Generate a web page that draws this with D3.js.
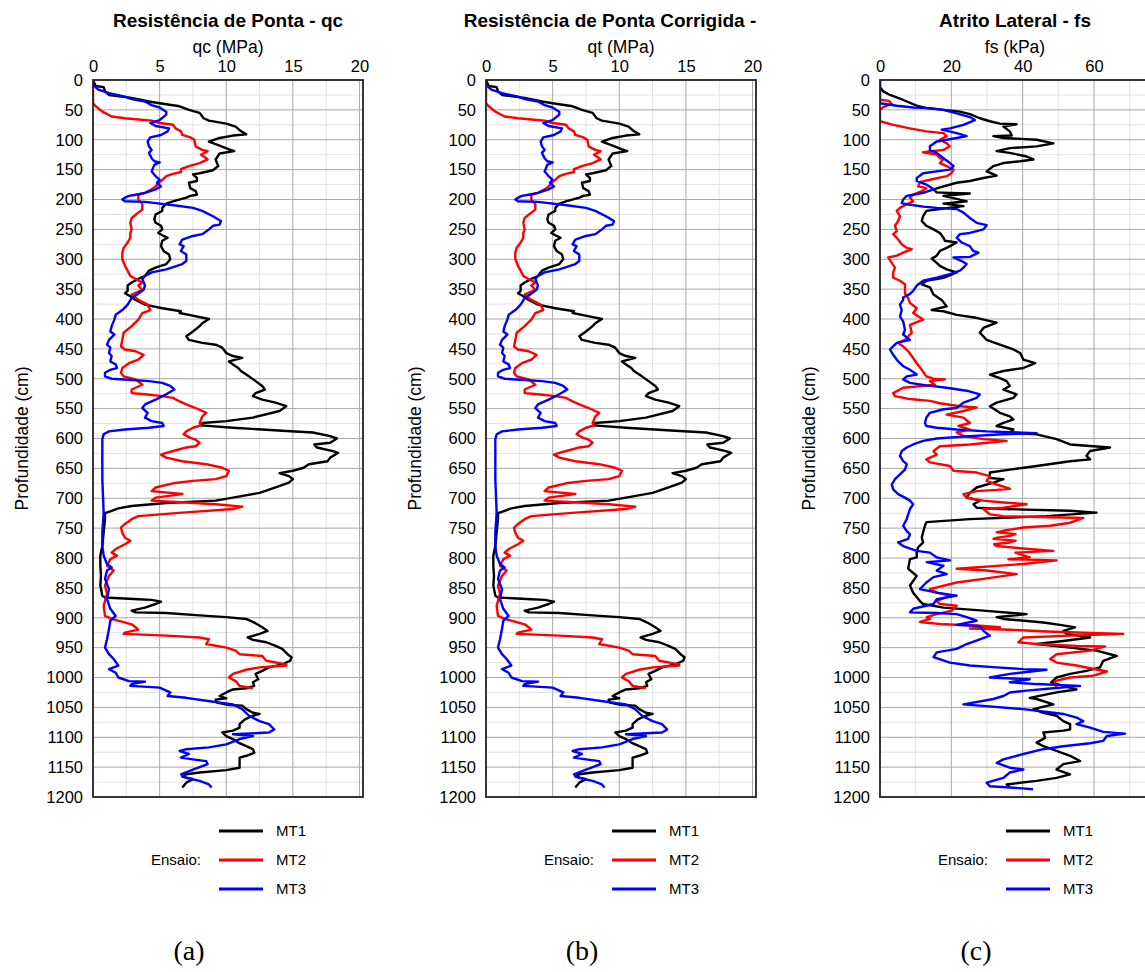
<!DOCTYPE html>
<html>
<head>
<meta charset="utf-8">
<script src="https://cdn.jsdelivr.net/npm/d3@7"></script>
<style>
    body { margin: 0; background: #fff; }
    svg text { font-family: "Liberation Sans", Arial, sans-serif; fill: #000; }
</style>
</head>
<body>
<svg id="drawing_region"></svg>
<script>
// [depth (cm), value] pairs
const qcMT1 = [[0,0],[10,0.2],[12,0.8],[19,0.9],[25,1.2],[30,2.9],[36,4.2],[39,5],[44,6.5],[50,7.2],[55,8],[64,8.3],[68,8.7],[73,10],[78,10.7],[84,11],[91,11.5],[93,10.5],[97,9.5],[103,8.7],[110,9.5],[116,10.2],[119,10.6],[123,9.5],[133,9.2],[144,9.4],[151,9],[156,8],[158,7.5],[164,7.8],[169,7.8],[172,7.2],[181,7.3],[186,7.7],[192,7.8],[194,7.3],[197,7],[203,6],[207,5.5],[214,5.2],[219,5.2],[225,4.7],[233,4.6],[239,4.7],[244,5.1],[250,5.2],[256,4.9],[261,5.3],[264,5.6],[269,5.2],[278,5.1],[286,5.3],[292,5.7],[300,5.8],[308,5.5],[314,4.7],[319,4.2],[328,3.9],[333,3.4],[339,2.9],[344,2.6],[353,2.6],[357,2.4],[362,2.8],[368,3.2],[376,3.9],[382,5.2],[387,6.6],[390,6.5],[393,7.2],[400,8.7],[407,8.2],[412,8],[421,7.5],[429,7],[435,7.2],[440,8.2],[443,9.2],[448,9.7],[457,10],[462,10.5],[465,11.2],[471,10.2],[476,10.5],[482,10.9],[487,11.1],[496,11.7],[504,12.2],[512,12.7],[518,12.9],[524,12.2],[529,12],[535,12.7],[540,13.7],[546,14.5],[554,14],[565,12],[571,10],[574,8.2],[578,8.1],[582,10.5],[587,14.2],[590,16.5],[596,17.8],[600,18.3],[607,17.8],[610,16.6],[615,16.8],[621,18],[624,18.4],[632,17.8],[638,17.6],[643,16.2],[649,15.8],[654,15],[658,14],[663,14.7],[668,15],[674,14.7],[682,13.7],[691,12.5],[699,10.5],[704,9.2],[708,5.5],[713,2.9],[717,1.9],[721,1.4],[725,0.9],[735,0.9],[757,0.8],[780,0.7],[796,0.55],[813,0.55],[830,0.6],[846,0.55],[863,0.7],[866,0.9],[869,3.4],[870,4.4],[873,5.1],[877,4.7],[883,3.9],[888,2.9],[891,3.2],[892,5.5],[896,8],[899,10],[902,11.5],[908,12.1],[916,12.7],[922,13.1],[927,12.5],[933,11.6],[937,12],[941,13],[947,13.7],[952,14.2],[961,14.6],[966,14.9],[972,14.8],[978,14.2],[983,13.2],[989,12.7],[994,12.2],[1003,12.4],[1008,12],[1014,12.1],[1018,11.5],[1020,10.5],[1025,10],[1031,9.5],[1035,10],[1037,9.2],[1042,9.3],[1046,10.2],[1047,11.2],[1053,11.5],[1059,12],[1061,12.5],[1064,12],[1070,11.4],[1078,11],[1084,11],[1089,10.5],[1092,9.7],[1098,10],[1103,10.5],[1109,10.9],[1115,11.5],[1120,12],[1126,12.1],[1131,11.5],[1134,11],[1142,11],[1151,11],[1155,10],[1159,8],[1162,7],[1166,6.7],[1170,7.5],[1176,7],[1184,6.7]];

const qcMT2 = [[0,0],[39,0],[44,0.2],[53,0.7],[61,1.4],[64,2.4],[66,3.4],[68,4.4],[72,5],[75,6],[81,6.2],[86,6.6],[92,6.7],[96,7.3],[100,7.6],[111,7.7],[117,8.2],[119,8.6],[125,8.1],[131,8.5],[133,8.6],[139,8],[144,7.2],[149,6.6],[154,6.6],[157,6],[161,5.5],[167,5.2],[171,5],[178,4.7],[183,4.4],[189,3.9],[192,3.4],[200,3.4],[208,3.7],[217,3.7],[222,3.4],[231,2.9],[239,2.8],[250,2.9],[256,2.8],[264,2.8],[272,2.6],[281,2.3],[289,2.2],[300,2.2],[311,2.4],[319,2.6],[328,2.8],[333,3.2],[339,3.7],[344,3.4],[351,3.7],[359,2.9],[368,3.4],[376,4.1],[385,4.3],[390,3.7],[401,3.4],[412,2.9],[423,2.3],[435,2.2],[446,2.1],[451,2.4],[454,3.2],[460,3.8],[468,3.4],[474,2.7],[482,2.2],[490,2.1],[496,2.3],[501,3.2],[510,3.7],[518,2.9],[524,2.9],[526,3.9],[529,5.2],[532,6],[538,6.5],[543,7],[549,7.7],[554,8.2],[557,8.5],[563,8.2],[574,8],[578,8.1],[582,7.5],[588,7],[593,6.8],[599,7.3],[602,7.7],[607,8],[613,7.7],[615,7],[618,6.5],[624,5.5],[627,5.1],[632,5.5],[638,6.7],[643,8.5],[649,9.7],[654,10.2],[663,10],[668,9.2],[671,7.5],[675,6],[682,4.7],[688,4.4],[693,6.7],[699,4.7],[704,4.4],[707,7],[710,9.2],[714,11.2],[718,10.5],[724,6.7],[730,3.4],[735,2.9],[743,2.4],[749,2.1],[758,2.2],[766,2.4],[771,2.8],[777,2.4],[785,1.7],[791,1.4],[796,1.8],[802,1.3],[813,1.05],[821,1.55],[830,1.2],[846,0.9],[860,1.05],[880,0.8],[897,0.9],[902,1.4],[911,2.9],[916,3.2],[920,3.4],[925,2.4],[927,2.3],[930,5.5],[933,8],[936,8.7],[944,8.5],[950,10],[955,10.7],[961,11],[964,12.7],[972,13],[978,14.5],[980,14.5],[983,12.5],[987,11.5],[994,10.5],[1000,10.2],[1006,10.7],[1014,11],[1018,12]];

const qcMT3 = [[0,0],[8,0],[16,0.4],[22,1.2],[28,2.4],[32,2.9],[36,3.9],[42,4.4],[46,5],[53,5.5],[58,5.5],[67,5],[72,4.3],[77,4.7],[81,5.7],[86,5.6],[92,5.1],[96,4.3],[103,4.1],[111,4.2],[117,4.4],[122,4.2],[131,4.4],[136,4.6],[138,5],[142,4.6],[153,4.4],[161,4.7],[167,5],[172,4.8],[178,5.1],[183,4.7],[189,3.9],[192,3.2],[194,2.7],[197,2.4],[200,2.2],[203,2.4],[204,3.9],[206,4.7],[210,6.2],[214,7.5],[219,8.2],[228,9],[236,9.6],[242,9.5],[244,9],[250,8.7],[258,8.2],[261,7.5],[267,6.7],[275,6.5],[278,6.8],[286,6.6],[292,7],[303,7],[308,6.7],[317,5.5],[322,4.4],[328,3.9],[333,3.7],[344,3.9],[351,3.8],[359,3.3],[365,2.9],[376,2.6],[385,2.2],[393,1.7],[401,1.6],[412,1.4],[421,1.3],[426,1.6],[435,1.2],[443,1.05],[448,1.3],[457,1.2],[462,1.4],[471,1.3],[476,1.7],[482,1.8],[485,1.3],[490,0.9],[496,0.9],[500,1.4],[502,2.9],[504,4.2],[507,5.2],[512,5.8],[518,6.1],[526,5.5],[535,4.7],[543,3.9],[549,3.7],[557,4.1],[565,3.9],[571,4.4],[574,5.2],[579,5.3],[582,4.2],[585,2.4],[588,1.2],[593,0.8],[601,0.7],[624,0.7],[668,0.7],[724,0.8],[757,0.7],[780,0.7],[796,0.8],[810,1.05],[816,1.4],[821,1.05],[835,0.9],[852,1.2],[869,1.05],[885,1.3],[897,1.7],[905,1.3],[919,1.2],[936,1.05],[950,0.9],[961,1.2],[969,1.55],[980,1.9],[986,1.2],[992,1.7],[1000,1.9],[1006,2.7],[1007,3.9],[1011,2.9],[1014,2.8],[1017,5],[1022,5.5],[1025,5.8],[1031,5.6],[1034,7],[1039,8.5],[1045,10.5],[1053,11.2],[1064,11.7],[1073,12.5],[1078,13.2],[1087,13.6],[1092,13.2],[1095,10.5],[1098,12],[1103,11],[1112,10],[1117,8.7],[1120,7],[1123,6.5],[1128,7.2],[1134,6.6],[1137,7.5],[1140,8.5],[1145,8.6],[1154,7.5],[1162,6.6],[1168,7],[1173,8],[1179,8.7],[1184,8.9]];

// qt profiles: no visible difference from qc at this scale
const qtMT1 = qcMT1;
const qtMT2 = qcMT2;
const qtMT3 = qcMT3;

const fsMT1 = [[0,0],[12,0],[19,0.9],[25,2.8],[31,5.6],[36,7.5],[43,10.3],[47,13],[50,17.8],[53,22.4],[57,25.2],[64,28],[69,30.8],[73,33.6],[74,38.3],[78,34.6],[86,36.4],[93,36.9],[94,31.8],[97,34.6],[100,43.9],[106,48.6],[111,43.9],[114,36.4],[119,32.7],[122,36.4],[128,41.1],[133,43],[136,39.3],[139,34.6],[144,31.8],[153,29.9],[160,32.7],[164,29],[169,25.2],[172,21.5],[178,17.8],[183,15],[188,15.9],[189,19.6],[190,25.2],[194,17.8],[199,21.5],[203,24.3],[207,17.8],[211,23.4],[216,16.8],[219,13],[228,12.1],[236,11.7],[244,13],[250,15],[256,16.8],[264,17.8],[269,18.2],[272,21.5],[281,18.7],[286,16.8],[294,15.9],[299,14.5],[306,15.9],[311,16.8],[317,18.7],[322,21.5],[331,17.8],[336,13],[342,11.7],[347,14],[359,15],[368,17.3],[379,18.7],[385,14.5],[387,17.8],[393,21.5],[398,27],[406,32.7],[415,29],[423,28],[435,29.9],[443,33.6],[451,37.4],[457,39.3],[468,40.2],[474,43.5],[482,40.2],[487,34.6],[493,30.8],[499,33.6],[504,35.5],[512,36.4],[518,34.6],[526,38.3],[532,37.4],[540,32.7],[546,30.8],[557,33.6],[563,36.4],[568,37.4],[574,34.6],[579,32.7],[585,37.4],[590,36.4],[593,43.9],[601,49.5],[610,53.3],[615,64.5],[621,58.9],[629,57.9],[635,58.9],[638,53.3],[646,43.9],[652,36.4],[657,30.8],[666,30.8],[668,34.6],[674,31.8],[682,27.1],[691,25.2],[699,24.3],[704,28],[710,26.2],[716,27.1],[718,34.6],[721,53.3],[724,60.7],[730,46.7],[735,25.2],[740,13],[746,12.6],[757,12.1],[766,11.7],[774,12.1],[782,10.7],[791,10.3],[799,10.3],[802,8.4],[818,7.9],[830,10.3],[846,8.4],[858,9.3],[872,11.2],[877,12.1],[883,17.8],[888,29],[894,41.1],[899,32.7],[902,34.6],[908,45.8],[912,50.5],[916,54.7],[922,51.4],[927,52.3],[933,58.9],[939,51.4],[944,43.9],[950,53.3],[955,60.7],[964,66.4],[972,62.6],[983,61.7],[989,57.9],[994,53.3],[1000,49.5],[1008,48],[1014,51.4],[1020,55.1],[1025,49.5],[1034,42],[1036,43.9],[1045,48.6],[1053,43],[1059,45.8],[1064,49.5],[1073,51.4],[1078,53.3],[1087,53.3],[1089,51.4],[1092,45.8],[1101,46.3],[1109,43.9],[1115,45.8],[1123,49.5],[1131,53.3],[1140,56.1],[1145,51.4],[1154,49.5],[1162,53.3],[1168,49.5],[1173,43.9],[1179,35.5],[1182,36.4]];

const fsMT2 = [[33,0],[35,2.5],[40,3.3],[45,1],[50,0],[69,0],[75,3.7],[81,8.4],[86,13],[89,17.8],[94,18.7],[100,16.8],[106,18.7],[111,19.6],[117,17.8],[121,12.1],[125,15.9],[131,16.8],[132,17.8],[139,16.8],[144,18.7],[150,20.6],[156,20],[161,18.7],[167,14],[171,11.2],[178,10.7],[181,13],[186,11.7],[192,9.3],[197,8.4],[203,9.3],[208,7.5],[214,5.6],[219,4.7],[228,5.6],[236,5.1],[244,4.2],[253,4.7],[258,3.7],[267,5.1],[275,6.1],[281,7.5],[283,8.9],[289,6.5],[294,4.7],[297,2.3],[306,3.3],[314,4.2],[322,3.7],[331,3.7],[336,5.6],[342,7],[346,7],[357,7],[365,7.9],[373,8.4],[382,10.3],[390,9.3],[401,12.1],[410,8.4],[423,8.9],[435,7],[440,5.1],[446,6.5],[454,7.9],[462,8.9],[474,10.3],[485,11.7],[496,13],[500,15],[501,18.2],[504,14],[510,15.4],[512,12.1],[515,6.5],[524,3.7],[529,4.2],[534,8.4],[537,14],[541,16.8],[546,22.4],[548,27.1],[554,23.4],[560,18.7],[565,23.4],[574,25.2],[579,22],[585,25.2],[590,21.5],[596,23.4],[601,29],[604,35.5],[610,25.2],[613,16.8],[621,15],[627,15.9],[635,13],[640,14],[646,19.6],[654,20.6],[657,27.1],[663,30.8],[671,29.9],[677,32.7],[684,36.4],[686,32.7],[688,27.1],[693,23.4],[699,24.3],[704,29],[707,34.6],[710,41.1],[716,34.6],[718,29],[727,30.8],[730,34.6],[733,57],[741,53.3],[746,47.7],[749,40.2],[754,35],[757,32.7],[760,38],[763,36.4],[766,33],[768,31.8],[771,38],[774,36.4],[777,32],[780,32.7],[784,40],[788,48.6],[791,38],[794,39.3],[799,42],[802,36],[804,49.5],[810,40.2],[818,21.5],[821,29.9],[827,38.3],[835,29],[841,21.5],[852,14],[858,15.9],[863,19.6],[872,15.9],[877,16.8],[880,21.5],[888,20.1],[894,15.9],[899,13.1],[902,14],[907,11.2],[911,17.8],[913,27.1],[916,33.6],[918,25.2],[920,36.4],[923,46.7],[927,68.2],[930,53.3],[933,40.2],[941,38.8],[944,43.9],[947,55.1],[948,63.1],[955,58.9],[961,49.5],[969,47.7],[975,49.5],[980,55.1],[990,63.6],[997,59.8],[1000,53.3],[1006,49],[1017,49.5]];

const fsMT3 = [[0,0],[39,0],[43,4.7],[46,9.3],[47,14],[50,17.8],[56,21.5],[62,25.2],[67,26.6],[75,23.4],[81,19.6],[83,17.3],[89,21.5],[94,24.3],[97,21.5],[103,15.9],[111,14],[117,14],[122,15.9],[131,17.8],[139,19.6],[144,20.6],[150,19.6],[153,15.9],[156,12.1],[164,10.3],[169,10.3],[175,13],[183,15],[189,12.1],[192,9.3],[194,7.5],[200,6.5],[206,6.1],[208,7.5],[212,12.1],[214,15.9],[216,21.5],[222,23.4],[231,25.2],[239,27.1],[243,29.9],[250,29],[256,25.2],[258,22.4],[264,21.5],[272,22.9],[278,25.2],[286,26.1],[289,27.6],[296,25.2],[297,20.6],[303,22.9],[308,24.3],[314,23.4],[319,22.4],[325,19.6],[331,15.9],[336,12.1],[344,10.3],[353,9.3],[358,8.4],[364,6.5],[368,6.5],[376,5.6],[385,6.1],[396,5.6],[404,6.5],[418,7],[426,6.5],[435,8.4],[440,4.7],[451,2.8],[460,3.7],[471,5.1],[479,6.5],[485,8.4],[493,10.3],[496,7.5],[501,6.5],[507,8.4],[511,13],[515,18.7],[520,24.3],[526,28],[532,27.1],[540,23.4],[549,21.5],[551,17.8],[557,14],[565,13],[574,12.6],[579,13],[582,15.9],[585,21.5],[588,29.9],[589,34.6],[591,43.9],[593,34.6],[596,25.2],[600,15.9],[604,12.1],[610,9.3],[615,7.5],[621,6.1],[629,5.6],[638,6.5],[643,7.5],[652,7],[660,5.6],[668,4.2],[677,3.3],[685,3.7],[693,5.1],[699,7],[704,8.4],[710,9.3],[718,8.4],[727,7.9],[735,7.5],[746,6.5],[755,7.5],[760,8.4],[768,7.9],[774,5.1],[780,6.5],[788,10.3],[791,14],[799,15.9],[804,19.6],[807,13.1],[813,17.8],[821,15.9],[827,18.7],[832,15],[841,13],[852,11.2],[858,15.9],[863,21.5],[869,15.9],[877,15],[885,9.3],[891,8.4],[892,15.9],[894,21.5],[899,24.3],[905,27.1],[912,21.5],[914,28],[922,29],[930,30.8],[936,28],[944,24.3],[952,21.5],[958,15.9],[966,15],[975,19.6],[980,25.2],[983,32.7],[986,40.2],[987,46.7],[992,39.3],[994,36.4],[1000,30.8],[1003,42],[1008,36.4],[1011,43.9],[1014,56.1],[1018,48.6],[1022,41.1],[1025,36.4],[1031,34.6],[1036,31.8],[1045,23.4],[1047,28],[1053,40.2],[1059,48.6],[1061,51.4],[1067,55.1],[1073,57],[1078,55.1],[1084,58.9],[1091,62.6],[1094,68.7],[1098,63.6],[1106,62.6],[1110,58.9],[1115,51.4],[1120,45.8],[1128,40.2],[1137,34.6],[1143,32.7],[1151,36.4],[1154,40.2],[1159,36.4],[1168,34.6],[1176,29.9],[1182,30.8],[1184,36.4],[1187,42.9]];

const seriesNames = ['MT1', 'MT2', 'MT3'];
const seriesColors = ['#000000', '#ff0000', '#0000ff'];
const depthTicks = d3.range(0, 1201, 50);

const panels = [
    { left: 93, xMax: 20.26, ticks: [0, 5, 10, 15, 20], minor: 2.5, title: 'Resistência de Ponta - qc', titleShift: 0, xLabel: 'qc (MPa)', series: [qcMT1, qcMT2, qcMT3], caption: '(a)' },
    { left: 486, xMax: 20.26, ticks: [0, 5, 10, 15, 20], minor: 2.5, title: 'Resistência de Ponta Corrigida -', titleShift: -11, xLabel: 'qt (MPa)', series: [qtMT1, qtMT2, qtMT3], caption: '(b)' },
    { left: 880, xMax: 75.7, ticks: [0, 20, 40, 60], minor: 10, title: 'Atrito Lateral - fs', titleShift: 0, xLabel: 'fs (kPa)', series: [fsMT1, fsMT2, fsMT3], caption: '(c)' }
];

const W = 1145, H = 972;
const plotTop = 80, plotH = 717, plotW = 270;

const svg = d3.select('#drawing_region')
    .attr('width', W)
    .attr('height', H);

const y = d3.scaleLinear().domain([0, 1200]).range([plotTop, plotTop + plotH]);

panels.forEach((p, i) => {
    const x = d3.scaleLinear().domain([0, p.xMax]).range([p.left, p.left + plotW]);
    const g = svg.append('g');
    const cx = p.left + plotW / 2;

    g.append('clipPath').attr('id', 'clip' + i)
        .append('rect')
        .attr('x', p.left).attr('y', plotTop)
        .attr('width', plotW).attr('height', plotH);

    // minor grid
    const minorX = d3.range(p.minor, p.xMax, p.minor).filter(v => !p.ticks.includes(v));
    const minorY = d3.range(25, 1200, 50);
    g.selectAll('.mx').data(minorX).enter().append('line')
        .attr('x1', d => x(d)).attr('x2', d => x(d))
        .attr('y1', plotTop).attr('y2', plotTop + plotH)
        .attr('stroke', '#e3e3e3').attr('stroke-width', 1);
    g.selectAll('.my').data(minorY).enter().append('line')
        .attr('x1', p.left).attr('x2', p.left + plotW)
        .attr('y1', d => y(d)).attr('y2', d => y(d))
        .attr('stroke', '#e3e3e3').attr('stroke-width', 1);

    // major grid
    g.selectAll('.gx').data(p.ticks.slice(1)).enter().append('line')
        .attr('x1', d => x(d)).attr('x2', d => x(d))
        .attr('y1', plotTop).attr('y2', plotTop + plotH)
        .attr('stroke', '#a8a8a8').attr('stroke-width', 1);
    g.selectAll('.gy').data(depthTicks.slice(1, -1)).enter().append('line')
        .attr('x1', p.left).attr('x2', p.left + plotW)
        .attr('y1', d => y(d)).attr('y2', d => y(d))
        .attr('stroke', '#a8a8a8').attr('stroke-width', 1);

    // profiles
    const line = d3.line().x(d => x(d[1])).y(d => y(d[0]));
    p.series.forEach((s, k) => {
        g.append('path')
            .datum(s)
            .attr('clip-path', `url(#clip${i})`)
            .attr('d', line)
            .attr('fill', 'none')
            .attr('stroke', seriesColors[k])
            .attr('stroke-width', 2.4)
            .attr('stroke-linejoin', 'round');
    });

    // frame
    g.append('rect')
        .attr('x', p.left).attr('y', plotTop)
        .attr('width', plotW).attr('height', plotH)
        .attr('fill', 'none').attr('stroke', '#222').attr('stroke-width', 1.8);

    // axes
    const xAxis = d3.axisTop(x).tickValues(p.ticks).tickSize(0).tickPadding(8);
    g.append('g').attr('transform', `translate(0,${plotTop})`).call(xAxis)
        .call(a => a.select('.domain').remove())
        .selectAll('text').style('font-size', '16.5px').attr('fill', '#000')
        .style('font-family', '"Liberation Sans", Arial, sans-serif');

    const yAxis = d3.axisLeft(y).tickValues(depthTicks).tickFormat(d3.format('d')).tickSize(0).tickPadding(10);
    g.append('g').attr('transform', `translate(${p.left},0)`).call(yAxis)
        .call(a => a.select('.domain').remove())
        .selectAll('text').style('font-size', '16.5px').attr('fill', '#000')
        .style('font-family', '"Liberation Sans", Arial, sans-serif');

    // titles
    g.append('text').attr('x', cx + p.titleShift).attr('y', 27)
        .attr('text-anchor', 'middle').style('font-size', '19px').style('font-weight', 'bold')
        .text(p.title);
    g.append('text').attr('x', cx).attr('y', 53)
        .attr('text-anchor', 'middle').style('font-size', '17.5px')
        .text(p.xLabel);
    g.append('text')
        .attr('transform', `translate(${p.left - 65},${plotTop + plotH / 2}) rotate(-90)`)
        .attr('text-anchor', 'middle').style('font-size', '17.5px')
        .text('Profundidade (cm)');

    // legend
    g.append('text').attr('x', p.left + 108).attr('y', 865)
        .attr('text-anchor', 'end').style('font-size', '15px').text('Ensaio:');
    seriesNames.forEach((n, k) => {
        const ly = 831 + k * 29;
        g.append('line')
            .attr('x1', p.left + 126).attr('x2', p.left + 170)
            .attr('y1', ly).attr('y2', ly)
            .attr('stroke', seriesColors[k]).attr('stroke-width', 3);
        g.append('text').attr('x', p.left + 183).attr('y', ly + 5)
            .style('font-size', '15px').text(n);
    });

    // caption
    g.append('text').attr('x', p.left + 96).attr('y', 960)
        .attr('text-anchor', 'middle')
        .style('font-family', '"Liberation Serif", "Times New Roman", serif')
        .style('font-size', '28px')
        .text(p.caption);
});
</script>
</body>
</html>
